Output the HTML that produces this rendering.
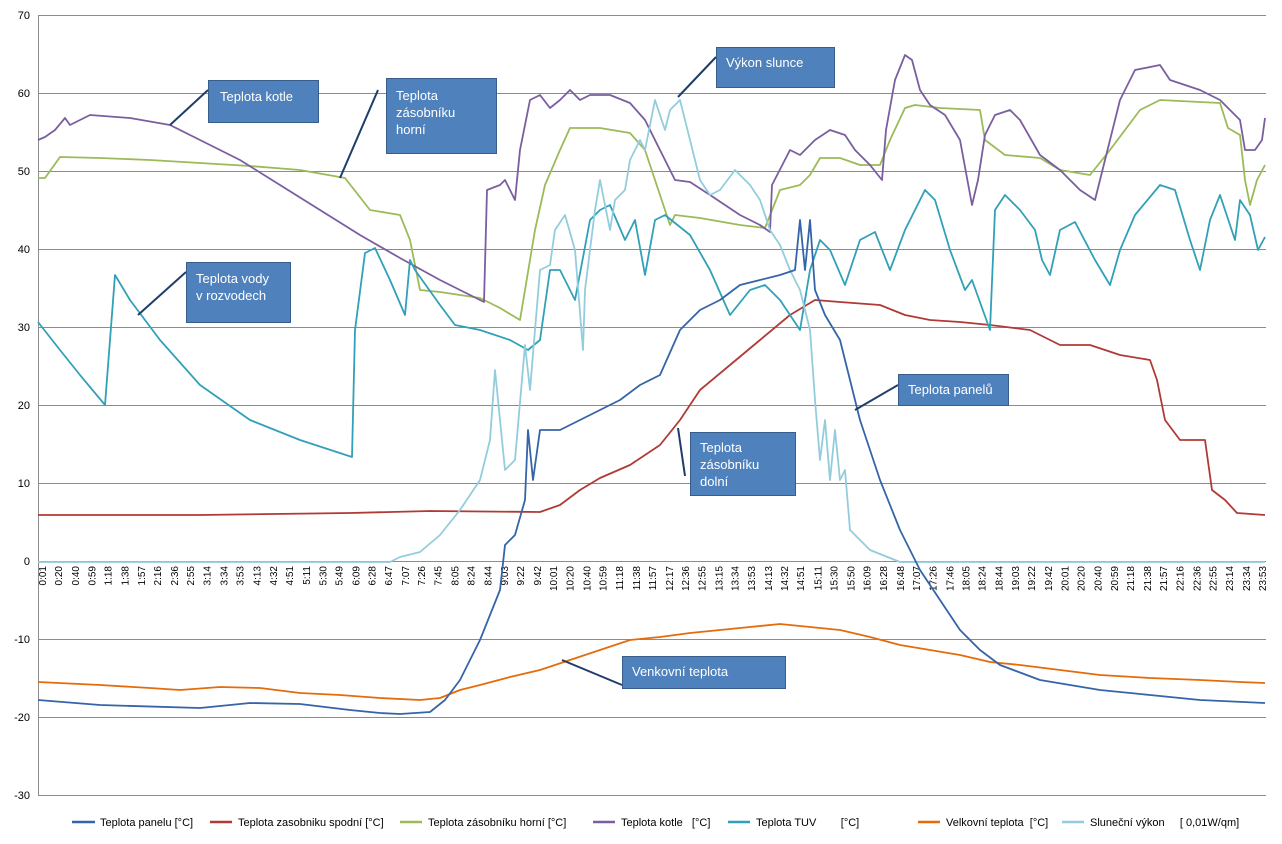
<!DOCTYPE html>
<html><head><meta charset="utf-8"><style>
body{margin:0;background:#fff}
svg{display:block;font-family:"Liberation Sans",sans-serif}
.lg text{white-space:pre}
</style></head><body>
<svg width="1282" height="844" viewBox="0 0 1282 844">
<rect x="0" y="0" width="1282" height="844" fill="#fff"/>
<g stroke="#8c8c8c" stroke-width="1">
<line x1="38" y1="15.5" x2="1266" y2="15.5"/>
<line x1="38" y1="93.5" x2="1266" y2="93.5"/>
<line x1="38" y1="171.5" x2="1266" y2="171.5"/>
<line x1="38" y1="249.5" x2="1266" y2="249.5"/>
<line x1="38" y1="327.5" x2="1266" y2="327.5"/>
<line x1="38" y1="405.5" x2="1266" y2="405.5"/>
<line x1="38" y1="483.5" x2="1266" y2="483.5"/>
<line x1="38" y1="561.5" x2="1266" y2="561.5"/>
<line x1="38" y1="639.5" x2="1266" y2="639.5"/>
<line x1="38" y1="717.5" x2="1266" y2="717.5"/>
<line x1="38" y1="795.5" x2="1266" y2="795.5"/>
<line x1="38.5" y1="15" x2="38.5" y2="795"/>
</g>
<g font-size="11" fill="#000" text-anchor="end">
<text x="30" y="19">70</text><text x="30" y="97">60</text><text x="30" y="175">50</text><text x="30" y="253">40</text><text x="30" y="331">30</text><text x="30" y="409">20</text><text x="30" y="487">10</text><text x="30" y="565">0</text><text x="30" y="643">-10</text><text x="30" y="721">-20</text><text x="30" y="799">-30</text>
</g>
<g id="xl" font-size="10" fill="#000" text-anchor="end"></g>
<g fill="none" stroke-width="1.8" stroke-linejoin="round">
<polyline stroke="#e46c0a" points="38,682 100,685 150,688 180,690 220,687 260,688 300,693 340,695 380,698 420,700 440,698 460,690 480,685 510,677 540,670 570,660 600,650 630,640 660,637 690,633 720,630 750,627 780,624 800,626 840,630 870,637 900,645 930,650 960,655 990,662 1020,665 1060,670 1100,675 1150,678 1200,680 1240,682 1265,683"/>
<polyline stroke="#b03a36" points="38,515 200,515 350,513 430,511 540,512 560,505 580,490 600,478 630,465 660,445 680,420 700,390 730,365 760,340 790,315 815,300 840,302 880,305 905,315 930,320 960,322 990,325 1030,330 1060,345 1090,345 1120,355 1150,360 1157,380 1165,420 1180,440 1205,440 1212,490 1225,500 1237,513 1265,515"/>
<polyline stroke="#9bbb59" points="38,178 45,178 60,157 100,158 150,160 200,163 250,166 300,170 345,178 370,210 400,215 410,240 420,290 440,292 480,298 500,308 520,320 525,290 535,230 545,185 560,150 570,128 600,128 630,133 645,150 660,195 670,225 675,215 700,218 740,225 765,228 780,190 800,185 810,175 820,158 840,158 860,165 880,165 890,140 905,108 915,105 940,108 980,110 985,140 1005,155 1040,158 1060,170 1090,175 1110,150 1140,110 1160,100 1200,102 1220,103 1228,128 1240,135 1245,180 1250,205 1257,180 1265,165"/>
<polyline stroke="#7a5ea0" points="38,140 45,137 55,130 65,118 70,125 90,115 130,118 170,125 200,140 240,160 280,185 320,210 360,235 400,258 440,280 484,302 487,190 500,185 505,180 515,200 520,150 530,100 540,95 550,108 560,100 570,90 580,100 590,95 610,95 630,103 645,120 660,150 675,180 690,182 710,195 740,215 760,225 770,232 772,185 790,150 800,155 815,140 830,130 845,135 855,150 870,165 882,180 886,130 895,80 905,55 912,60 920,90 930,105 945,115 960,140 972,205 978,180 985,135 995,115 1010,110 1020,120 1040,155 1060,170 1080,190 1095,200 1105,160 1120,100 1135,70 1160,65 1170,80 1200,90 1220,100 1240,120 1245,150 1255,150 1262,140 1265,118"/>
<polyline stroke="#31a0b8" points="38,322 60,350 80,375 105,405 115,275 130,300 160,340 200,385 250,420 300,440 352,457 355,330 365,253 375,248 390,280 405,315 410,260 415,270 440,305 455,325 480,330 510,340 528,350 540,340 550,270 560,270 575,300 590,220 600,210 610,205 625,240 635,220 645,275 655,220 665,215 690,235 710,270 730,315 750,290 765,285 780,300 800,330 810,270 820,240 830,250 845,285 860,240 875,232 890,270 905,230 925,190 935,200 950,250 965,290 972,280 990,330 995,210 1005,195 1020,210 1035,230 1042,260 1050,275 1060,230 1075,222 1095,260 1110,285 1120,250 1135,215 1160,185 1175,190 1190,240 1200,270 1210,220 1220,195 1235,240 1240,200 1250,215 1258,250 1265,237"/>
<polyline stroke="#93cddd" points="38,562 390,562 400,557 420,552 440,535 460,510 480,480 490,440 495,370 500,420 505,470 515,460 525,345 530,390 540,270 550,265 555,230 565,215 575,250 583,350 585,290 595,210 600,180 610,230 615,200 625,190 630,160 640,140 645,150 655,100 665,130 670,110 680,100 690,140 700,180 710,195 720,190 735,170 750,185 760,200 770,230 780,245 790,270 800,290 810,330 815,400 820,460 825,420 830,480 835,430 840,480 845,470 850,530 870,550 890,558 900,562 1265,562"/>
<polyline stroke="#3664a8" points="38,700 100,705 200,708 250,703 300,704 350,710 380,713 400,714 430,712 445,700 460,680 480,640 500,590 505,545 515,535 525,500 528,430 533,480 540,430 560,430 580,420 600,410 620,400 640,385 660,375 680,330 700,310 720,300 740,285 760,280 780,275 795,270 800,220 805,270 810,220 815,290 825,315 840,340 850,380 860,420 880,480 900,530 920,570 940,600 960,630 980,650 1000,665 1040,680 1100,690 1150,695 1200,700 1265,703"/>
</g>
<g stroke="#1f3d6b" stroke-width="2">
<line x1="208" y1="90" x2="170" y2="125"/>
<line x1="378" y1="90" x2="340" y2="178"/>
<line x1="186" y1="272" x2="138" y2="315"/>
<line x1="716" y1="57" x2="678" y2="97"/>
<line x1="898" y1="385" x2="855" y2="410"/>
<line x1="685" y1="476" x2="678" y2="428"/>
<line x1="622" y1="685" x2="562" y2="660"/>
</g>
<g fill="#4f81bd" stroke="#385d8a" stroke-width="1">
<rect x="208.5" y="80.5" width="110" height="42"/>
<rect x="386.5" y="78.5" width="110" height="75"/>
<rect x="186.5" y="262.5" width="104" height="60"/>
<rect x="716.5" y="47.5" width="118" height="40"/>
<rect x="898.5" y="374.5" width="110" height="31"/>
<rect x="690.5" y="432.5" width="105" height="63"/>
<rect x="622.5" y="656.5" width="163" height="32"/>
</g>
<g fill="#fff" font-size="13">
<text x="220" y="101">Teplota kotle</text>
<text x="396" y="100">Teplota</text><text x="396" y="117">zásobníku</text><text x="396" y="134">horní</text>
<text x="196" y="283">Teplota vody</text><text x="196" y="300">v rozvodech</text>
<text x="726" y="67">Výkon slunce</text>
<text x="908" y="394">Teplota panelů</text>
<text x="700" y="452">Teplota</text><text x="700" y="469">zásobníku</text><text x="700" y="486">dolní</text>
<text x="632" y="676">Venkovní teplota</text>
</g>
<g stroke-width="2.5">
<line x1="72" y1="822" x2="95" y2="822" stroke="#3664a8"/>
<line x1="210" y1="822" x2="232" y2="822" stroke="#b03a36"/>
<line x1="400" y1="822" x2="422" y2="822" stroke="#9bbb59"/>
<line x1="593" y1="822" x2="615" y2="822" stroke="#7a5ea0"/>
<line x1="728" y1="822" x2="750" y2="822" stroke="#31a0b8"/>
<line x1="918" y1="822" x2="940" y2="822" stroke="#e46c0a"/>
<line x1="1062" y1="822" x2="1084" y2="822" stroke="#93cddd"/>
</g>
<g class="lg" font-size="11" fill="#000">
<text x="100" y="826">Teplota panelu [°C]</text>
<text x="238" y="826">Teplota zasobniku spodní [°C]</text>
<text x="428" y="826">Teplota zásobníku horní [°C]</text>
<text x="621" y="826">Teplota kotle   [°C]</text>
<text x="756" y="826">Teplota TUV        [°C]</text>
<text x="946" y="826">Velkovní teplota  [°C]</text>
<text x="1090" y="826">Sluneční výkon     [ 0,01W/qm]</text>
</g>
</svg>
<script>
var L="0:01 0:20 0:40 0:59 1:18 1:38 1:57 2:16 2:36 2:55 3:14 3:34 3:53 4:13 4:32 4:51 5:11 5:30 5:49 6:09 6:28 6:47 7:07 7:26 7:45 8:05 8:24 8:44 9:03 9:22 9:42 10:01 10:20 10:40 10:59 11:18 11:38 11:57 12:17 12:36 12:55 13:15 13:34 13:53 14:13 14:32 14:51 15:11 15:30 15:50 16:09 16:28 16:48 17:07 17:26 17:46 18:05 18:24 18:44 19:03 19:22 19:42 20:01 20:20 20:40 20:59 21:18 21:38 21:57 22:16 22:36 22:55 23:14 23:34 23:53".split(" ");
var g=document.getElementById("xl"),ns="http://www.w3.org/2000/svg";
L.forEach(function(s){var p=s.split(":"),m=+p[0]*60+ +p[1];var x=42+(m-1)*1220/1432;
var t=document.createElementNS(ns,"text");t.setAttribute("transform","translate("+(x+4).toFixed(1)+",566) rotate(-90)");t.textContent=s;g.appendChild(t);});
</script>
</body></html>
